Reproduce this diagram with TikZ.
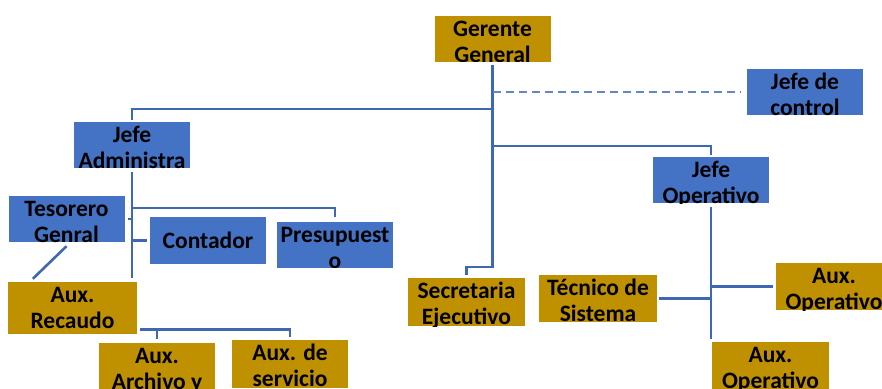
\documentclass[tikz,border=0pt]{standalone}
\usepackage{fontspec}
\setmainfont{Carlito}
\usetikzlibrary{calc}
\definecolor{azul}{RGB}{68,114,196}
\definecolor{oro}{RGB}{191,144,0}
\definecolor{linea}{RGB}{62,104,180}
\tikzstyle{puesto}=[minimum width=116pt, minimum height=46pt, inner sep=0pt]
\tikzstyle{rotulo}=[anchor=base, align=center, inner sep=0pt, minimum size=0pt, fill=none, draw=none, text=black, font=\fontsize{23.5}{26}\selectfont\bfseries]
\tikzstyle{enlace}=[draw=linea, line width=2.6pt]
\tikzstyle{enlace discontinuo}=[draw=linea!80, line width=1.6pt, dash pattern=on 8pt off 5pt]
% box whose two-line text is cut off at the box edge
\newcommand\puesto[5][]{%
  \node[puesto, fill=#3, #1, path picture={\node[rotulo] at ([yshift=-46.5pt]path picture bounding box.north) {#5};}] (#2) at (#4) {};}

\begin{document}
\begin{tikzpicture}[x=1pt,y=-1pt]
\clip (0,0) rectangle (882,388);
\puesto{gg}{oro}{492.5,38.5}{Gerente\\General}
\puesto{jc}{azul}{805,92}{Jefe de\\control}
\puesto{ja}{azul}{132,145}{Jefe\\Administra}
\puesto{jo}{azul}{711,180}{Jefe\\Operativo}
\puesto{tg}{azul}{66.5,219}{Tesorero\\Genral}
\node[puesto, fill=azul, minimum height=47pt, font=\fontsize{23.5}{26}\selectfont\bfseries] (co) at (208,240.5) {Contador};
\puesto{pr}{azul}{335,244.5}{Presupuest\\o}
\puesto[minimum width=129pt, minimum height=52pt]{ar}{oro}{72.5,308}{Aux.\\Recaudo}
\puesto[minimum height=47pt]{aa}{oro}{157,366.5}{Aux.\\Archivo y}
\puesto[minimum height=48pt]{as}{oro}{290,364}{Aux. de\\servicio}
\puesto[minimum width=117pt, minimum height=48pt]{se}{oro}{466.5,302}{Secretaria\\Ejecutivo}
\puesto[minimum width=118pt, minimum height=47pt]{ts}{oro}{598,298.5}{T\'ecnico de\\Sistema}
\puesto[minimum height=47pt]{ao1}{oro}{834,286.5}{Aux.\\Operativo}
\puesto[minimum width=117pt, minimum height=47pt]{ao2}{oro}{770.5,365.5}{Aux.\\Operativo}

\draw[enlace] ([yshift=-3pt]gg.south) -- (gg.south |- 0,267) -| ([yshift=3pt]se.north);
\draw[enlace discontinuo] (gg.south |- jc.west) -- ([xshift=-7pt]jc.west);
\draw[enlace] (gg.south |- 0,109) -| ([yshift=2pt]ja.north);
\draw[enlace] (gg.south |- 0,146) -| ([yshift=2pt]jo.north);

\draw[enlace] ([yshift=-4pt]jo.south) -- ([yshift=3pt]jo.south |- ao2.north);
\draw[enlace] (jo.south |- ao1.west) -- ([xshift=-3pt]ao1.west);
\draw[enlace] ([xshift=2pt]ts.east) -- (jo.south |- ts.east);

\draw[enlace] ([yshift=-4pt]ja.south) -- ([yshift=4pt]ja.south |- ar.north);
\draw[enlace] (ja.south |- 0,208) -| ([yshift=4pt]pr.north);
\draw[enlace] (ja.south |- tg.east) -- ([xshift=3pt]tg.east);
\draw[enlace] (ja.south |- co.west) -- ([xshift=-3pt]co.west);
\draw[enlace] ([yshift=-4pt]tg.south) -- ([shift={(25,-3)}]ar.north west);

\draw[enlace] ([shift={(3,-5)}]ar.south east) -| ([yshift=3pt]as.north);
\draw[enlace] (aa.north |- 0,329) -- ([yshift=4pt]aa.north);
\end{tikzpicture}
\end{document}
